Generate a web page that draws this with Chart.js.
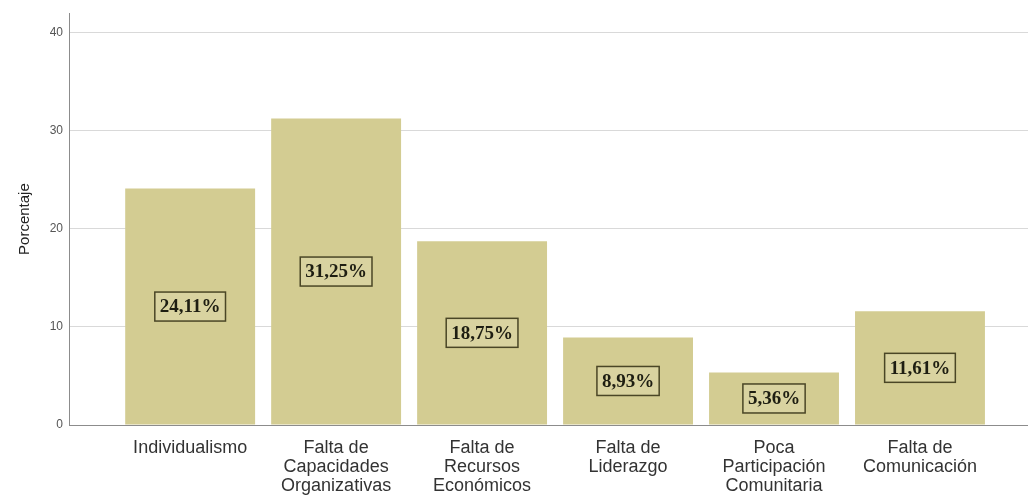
<!DOCTYPE html>
<html lang="es">
<head>
<meta charset="utf-8"/>
<title>Porcentaje</title>
<style>
  body, html { margin: 0; padding: 0; background: #fff; }
  #wrap { width: 1028px; height: 497px; }
</style>
</head>
<body>
<div id="wrap"><canvas id="chart" width="1028" height="497"></canvas></div>
<script src="https://cdn.jsdelivr.net/npm/chart.js"></script>
<script>
  const categorias = [
    'Individualismo',
    ['Falta de', 'Capacidades', 'Organizativas'],
    ['Falta de', 'Recursos', 'Económicos'],
    ['Falta de', 'Liderazgo'],
    ['Poca', 'Participación', 'Comunitaria'],
    ['Falta de', 'Comunicación']
  ];
  const porcentajes = [24.11, 31.25, 18.75, 8.93, 5.36, 11.61];
  const ticksY = [0, 10, 20, 30, 40];

  // etiquetas con recuadro en el centro de cada barra
  const etiquetas = {
    id: 'etiquetas',
    afterDatasetsDraw(chart) {
      const ctx = chart.ctx;
      const meta = chart.getDatasetMeta(0);
      ctx.save();
      ctx.font = 'bold 19px "Liberation Serif", serif';
      ctx.textAlign = 'center';
      ctx.textBaseline = 'middle';
      meta.data.forEach((bar, i) => {
        const txt = porcentajes[i].toFixed(2).replace('.', ',') + '%';
        const cy = (bar.y + bar.base) / 2;
        const w = ctx.measureText(txt).width + 10;
        const h = 29;
        ctx.fillStyle = '#d9d3a0';
        ctx.fillRect(bar.x - w / 2, cy - h / 2, w, h);
        ctx.strokeStyle = '#4a4626';
        ctx.lineWidth = 1.5;
        ctx.strokeRect(bar.x - w / 2, cy - h / 2, w, h);
        ctx.fillStyle = '#1e1e12';
        ctx.fillText(txt, bar.x, cy + 1);
      });
      ctx.restore();
    }
  };

  new Chart(document.getElementById('chart'), {
    type: 'bar',
    data: {
      datasets: [{
        data: porcentajes.map((v, i) => ({ x: i, y: v })),
        backgroundColor: '#d3cc92',
        borderWidth: 0,
        categoryPercentage: 1,
        barPercentage: 0.89
      }]
    },
    options: {
      responsive: false,
      animation: false,
      layout: { padding: { top: 13, right: 0, left: 0, bottom: 0 } },
      plugins: { legend: { display: false }, tooltip: { enabled: false } },
      scales: {
        x: {
          type: 'linear',
          offset: false,
          min: -0.83,
          max: 5.74,
          afterBuildTicks: s => { s.ticks = categorias.map((c, i) => ({ value: i })); },
          afterFit: s => { s.height = 72; },
          grid: { display: false, offset: false },
          border: { display: true, color: '#8c8c8c', width: 1 },
          ticks: {
            autoSkip: false,
            maxRotation: 0,
            padding: 6,
            color: '#333',
            font: { family: '"Liberation Sans", Arial, sans-serif', size: 18, lineHeight: 1.05 },
            callback: v => categorias[v]
          }
        },
        y: {
          min: 0,
          max: 42,
          afterBuildTicks: s => { s.ticks = ticksY.map(v => ({ value: v })); },
          afterFit: s => { s.width = 69; },
          grid: { color: '#d9d9d9', lineWidth: 1, drawTicks: false },
          border: { display: true, color: '#8c8c8c', width: 1 },
          ticks: {
            padding: 6,
            color: '#555',
            font: { family: '"Liberation Sans", Arial, sans-serif', size: 12 }
          },
          title: {
            display: true,
            text: 'Porcentaje',
            color: '#222',
            padding: { top: 16, bottom: 0 },
            font: { family: '"Liberation Sans", Arial, sans-serif', size: 15 }
          }
        }
      }
    },
    plugins: [etiquetas]
  });
</script>
</body>
</html>
